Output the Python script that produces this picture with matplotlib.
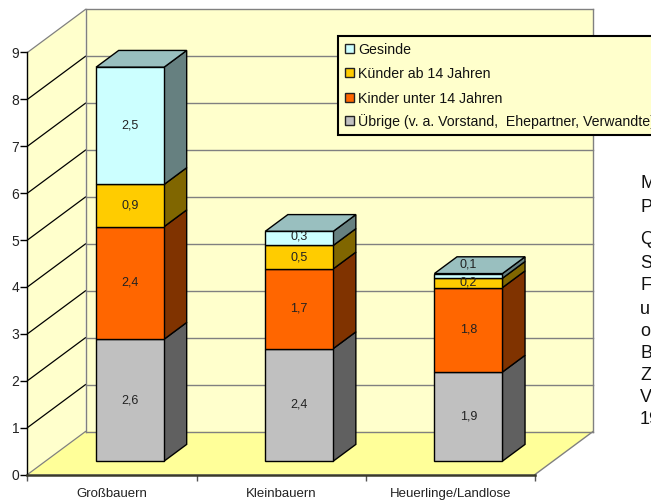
import matplotlib
matplotlib.use("Agg")
import matplotlib.pyplot as plt
from matplotlib.patches import Polygon, Rectangle
from matplotlib.colors import to_rgb

plt.rcParams["font.family"] = ["Liberation Sans", "DejaVu Sans"]

categories = ["Großbauern", "Kleinbauern", "Heuerlinge/Landlose"]
uebrige = [2.6, 2.4, 1.9]
kinder_unter_14 = [2.4, 1.7, 1.8]
kinder_ab_14 = [0.9, 0.5, 0.2]
gesinde = [2.5, 0.3, 0.1]

series_names = ["Übrige (v. a. Vorstand,  Ehepartner, Verwandte)", "Kinder unter 14 Jahren",
                "Künder ab 14 Jahren", "Gesinde"]
series_values = [uebrige, kinder_unter_14, kinder_ab_14, gesinde]
series_colors = ["#C0C0C0", "#FF6600", "#FFCC00", "#CCFFFF"]
side_notes = ["M", "P", "Q", "S", "F", "u", "o", "B", "Z", "V", "19"]

W, H = 651, 500
PX_X = 169.17   # pixels per category
PX_Y = 46.9     # pixels per person
X0, Y0 = 27.5, 474.5

# oblique projection of the 3D box: depth 1 is the back wall
DEPTH_X = 58 / PX_X
DEPTH_Y = 43 / PX_Y
BAR_WIDTH = 0.402
BAR_FRONT, BAR_BACK = 0.31, 0.70


def project(x, y, d):
    return (x + d * DEPTH_X, y + d * DEPTH_Y)


def shade(color, factor):
    return tuple(c * factor for c in to_rgb(color))


fig = plt.figure(figsize=(W / 100, H / 100), dpi=100)
ax = fig.add_axes([0, 0, 1, 1])
ax.set_xlim(-X0 / PX_X, (W - X0) / PX_X)
ax.set_ylim(-(H - Y0) / PX_Y, Y0 / PX_Y)
ax.patch.set_visible(False)

n_cat = len(categories)
y_max = 9

# walls and floor
ax.add_patch(Polygon([project(0, 0, 1), project(n_cat, 0, 1), project(n_cat, y_max, 1), project(0, y_max, 1)],
                     closed=True, fc="#FFFFCC", ec="none", zorder=1))
ax.add_patch(Polygon([project(0, 0, 0), project(0, y_max, 0), project(0, y_max, 1), project(0, 0, 1)],
                     closed=True, fc="#FFFFCC", ec="none", zorder=1))
ax.add_patch(Polygon([project(0, 0, 0), project(n_cat, 0, 0), project(n_cat, 0, 1), project(0, 0, 1)],
                     closed=True, fc="#FFFF99", ec="none", zorder=1))

# grid lines on both walls
for v in range(0, y_max + 1):
    p0, p1, p2 = project(0, v, 0), project(0, v, 1), project(n_cat, v, 1)
    ax.plot([p1[0], p2[0]], [p1[1], p2[1]], color="#808080", lw=1.0, zorder=2)
    side_color = "#808080" if v in (0, y_max) else "black"
    ax.plot([p0[0], p1[0]], [p0[1], p1[1]], color=side_color, lw=0.9, zorder=2)

# wall outlines
back_left = project(0, 0, 1)
back_right = project(n_cat, 0, 1)
wall_top_y = project(0, y_max, 1)[1]
ax.plot([back_left[0], back_left[0]], [back_left[1], wall_top_y], color="#808080", lw=1.0, zorder=2)
ax.plot([back_right[0], back_right[0]], [back_right[1], wall_top_y], color="#808080", lw=1.0, zorder=2)
ax.plot([project(n_cat, 0, 0)[0], back_right[0]], [0, back_right[1]], color="#808080", lw=1.0, zorder=2)

# stacked 3D columns
label_nudges = {(2, 3): 0.25, (1, 3): 0.05}
for i in range(n_cat):
    left = i + 0.5 - BAR_WIDTH / 2
    right = left + BAR_WIDTH
    base = 0.0
    for s, (values, color) in enumerate(zip(series_values, series_colors)):
        top = base + values[i]
        ax.add_patch(Polygon([project(right, base, BAR_FRONT), project(right, base, BAR_BACK),
                              project(right, top, BAR_BACK), project(right, top, BAR_FRONT)],
                             closed=True, fc=shade(color, 0.5), ec="black", lw=1.0, zorder=3 + s))
        if s == len(series_values) - 1:
            ax.add_patch(Polygon([project(left, top, BAR_FRONT), project(right, top, BAR_FRONT),
                                  project(right, top, BAR_BACK), project(left, top, BAR_BACK)],
                                 closed=True, fc=shade(color, 0.75), ec="black", lw=1.0, zorder=3 + s))
        fx, fy = project(left, base, BAR_FRONT)
        ax.add_patch(Rectangle((fx, fy), BAR_WIDTH, values[i], fc=color, ec="black", lw=1.0, zorder=3 + s))
        ax.text(fx + BAR_WIDTH / 2, fy + values[i] / 2 + label_nudges.get((i, s), 0),
                f"{values[i]:.1f}".replace(".", ","), ha="center", va="center",
                fontsize=9, color="#222222", zorder=10)
        base = top

# axes drawn with the library's own spines and ticks
for name in ("top", "right"):
    ax.spines[name].set_visible(False)
ax.spines["left"].set_position(("data", 0))
ax.spines["left"].set_bounds(0, y_max)
ax.spines["left"].set_linewidth(1.0)
ax.spines["bottom"].set_position(("data", 0))
ax.spines["bottom"].set_bounds(0, n_cat)
ax.spines["bottom"].set_linewidth(1.8)
ax.spines["bottom"].set_color("#3a3a2a")

ax.set_yticks(range(0, y_max + 1))
ax.tick_params(axis="y", length=5.0, width=1.0, pad=1, labelsize=10, labelcolor="#222222")
ax.set_xticks(range(0, n_cat + 1))
ax.set_xticklabels([])
ax.tick_params(axis="x", which="major", length=4.5, width=1.0, color="#555555")
ax.set_xticks([i + 0.5 for i in range(n_cat)], minor=True)
ax.set_xticklabels(categories, minor=True, fontsize=9.5, color="#222222")
ax.tick_params(axis="x", which="minor", length=0, pad=9.5)


def to_data(px, py):
    return (px - X0) / PX_X, (Y0 - py) / PX_Y


# legend box, running past the right edge of the figure
lx, ly = to_data(337.5, 134.5)
lw_d = (W + 40 - 337.5) / PX_X
lh_d = (134.5 - 36) / PX_Y
ax.add_patch(Rectangle((lx, ly), lw_d, lh_d, fc="#FFFFCC", ec="black", lw=1.5, zorder=20))
legend_rows = [120.5, 97.5, 72.5, 49]
for name, color, py in zip(series_names, series_colors, legend_rows):
    kx, ky = to_data(345, py + 4)
    ax.add_patch(Rectangle((kx, ky), 8.5 / PX_X, 8.5 / PX_Y, fc=color, ec="#222222", lw=1.0, zorder=21))
    tx, ty = to_data(358, py + 1)
    ax.text(tx, ty, name, ha="left", va="center", fontsize=10.2, color="#111111", zorder=21)

# side note, cut off by the figure edge
note_rows = [184, 207, 240, 264, 286, 309, 331, 353, 376, 398, 420]
for text, py in zip(side_notes, note_rows):
    tx, ty = to_data(640, py)
    ax.text(tx, ty, text, ha="left", va="center", fontsize=13, color="#111111", zorder=21)

fig.savefig("out.png", dpi=100, facecolor="white")
